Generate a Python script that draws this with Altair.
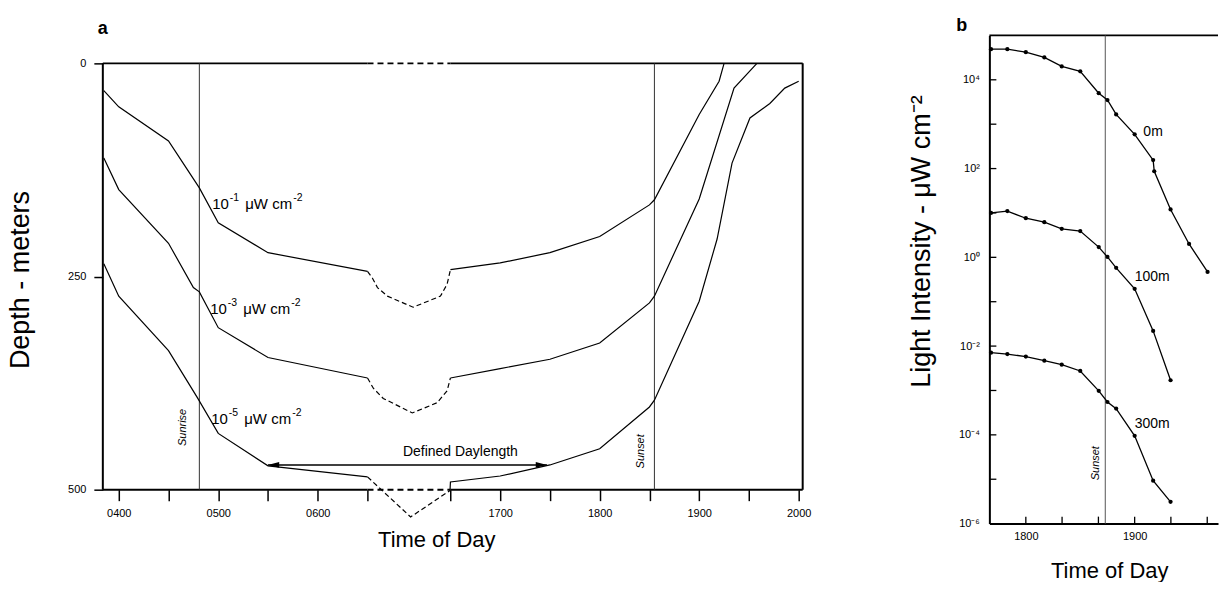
import altair as alt
import pandas as pd

FONT = "Liberation Sans"
NARROW = "Liberation Sans Narrow, Liberation Sans"

# ---------------- panel a : depth of three isolumes ----------------
# clock time in decimal hours, depth in metres; 0630-1630 is drawn as a compressed break
ISO1_AM_TIME = [3.85, 4.0, 4.5, 4.81, 5.0, 5.5, 6.5]
ISO1_AM_DEPTH = [32, 51, 91, 146, 187, 222, 244]
ISO1_MID_TIME = [6.5, 7.1, 7.7, 8.9, 12.0, 15.3, 16.1, 16.5]
ISO1_MID_DEPTH = [244, 252, 263, 273, 286, 273, 259, 242]
ISO1_PM_TIME = [16.5, 17.0, 17.5, 18.0, 18.5, 18.55, 19.0, 19.2, 19.25]
ISO1_PM_DEPTH = [242, 234, 222, 203, 166, 160, 60, 21, 0]

ISO2_AM_TIME = [3.85, 4.0, 4.5, 4.75, 4.81, 5.0, 5.5, 6.5]
ISO2_AM_DEPTH = [111, 148, 211, 263, 268, 310, 345, 369]
ISO2_MID_TIME = [6.5, 7.2, 8.4, 11.9, 14.9, 16.1, 16.5]
ISO2_MID_DEPTH = [369, 381, 393, 410, 398, 384, 369]
ISO2_PM_TIME = [16.5, 17.0, 17.5, 18.0, 18.5, 18.55, 19.0, 19.35, 19.58]
ISO2_PM_DEPTH = [369, 358, 347, 328, 281, 273, 159, 29, 0]

ISO3_AM_TIME = [3.85, 4.0, 4.5, 4.79, 5.0, 5.5, 6.5]
ISO3_AM_DEPTH = [235, 273, 337, 392, 434, 472, 485]
ISO3_MID_TIME = [6.5, 11.7, 16.45]
ISO3_MID_DEPTH = [485, 532, 501]
ISO3_PM_TIME = [16.45, 16.5, 17.0, 17.5, 18.0, 18.5, 18.55, 19.0, 19.18, 19.33, 19.51, 19.71, 19.86, 20.0]
ISO3_PM_DEPTH = [501, 491, 484, 471, 452, 403, 395, 279, 206, 117, 64, 47, 29, 21]

# isolume labels "10^x μW cm^-2": base, exponent, unit, unit exponent
ISO_BASE = ["10", "10", "10"]
ISO_EXP = ["-1", "-3", "-5"]
ISO_UNIT = ["μW cm", "μW cm", "μW cm"]
ISO_UNIT_EXP = ["-2", "-2", "-2"]
ISO_LABEL_TIME = [4.94, 4.92, 4.93]
ISO_LABEL_DEPTH = [171, 294, 423]

SUNRISE_A = 4.81
SUNSET_A = 18.55
DAYLENGTH_START, DAYLENGTH_END, DAYLENGTH_DEPTH = 5.5, 17.47, 471
DAYLENGTH_TEXT_TIME, DAYLENGTH_TEXT_DEPTH = 16.6, 461
SUNRISE_TEXT = (4.68, 427)
SUNSET_TEXT_A = (18.45, 455)
PANEL_A_TAG = (3.79, -34)
TICK_HOURS_A = [4.0, 4.5, 5.0, 5.5, 6.0, 6.5, 16.5, 17.0, 17.5, 18.0, 18.5, 19.0, 19.5, 20.0]
DEPTH_TICKS = [0, 250, 500]

# ---------------- panel b : light intensity at three depths ----------------
SURF_TIME = [17.68, 17.83, 18.0, 18.17, 18.33, 18.5, 18.67, 18.75, 18.83, 19.0, 19.17, 19.18, 19.33, 19.5, 19.67]
SURF_LIGHT = [4.9e4, 4.9e4, 4.2e4, 3.2e4, 2.0e4, 1.55e4, 5.0e3, 3.5e3, 1.66e3, 5.9e2, 1.55e2, 8.7e1, 1.2e1, 2.0, 0.47]
M100_TIME = [17.68, 17.83, 18.0, 18.17, 18.33, 18.5, 18.67, 18.75, 18.83, 19.0, 19.17, 19.33]
M100_LIGHT = [10, 11, 7.6, 6.2, 4.4, 3.9, 1.7, 1.02, 0.58, 0.195, 0.022, 0.0017]
M300_TIME = [17.68, 17.83, 18.0, 18.17, 18.33, 18.5, 18.67, 18.75, 18.83, 19.0, 19.17, 19.33]
M300_LIGHT = [7.1e-3, 6.6e-3, 5.8e-3, 4.7e-3, 3.8e-3, 2.75e-3, 9.8e-4, 5.5e-4, 3.9e-4, 9.5e-5, 9.3e-6, 3.1e-6]
SERIES_LABELS = ["0m", "100m", "300m"]
SERIES_LABEL_TIME = [19.08, 19.0, 19.0]
SERIES_LABEL_LIGHT = [5.4e2, 0.30, 1.45e-4]
SUNSET_B = 18.73
SUNSET_TEXT_B = (18.674, 2.3e-5)
PANEL_B_TAG = (17.36, 1.23e5)
TICK_HOURS_B = [18.0, 18.333, 18.667, 19.0, 19.333, 19.667]
DECADES_B = [1e-5, 1e-4, 1e-3, 1e-2, 1e-1, 1.0, 1e1, 1e2, 1e3, 1e4]
LABELED_DECADES_B = [1e4, 1e2, 1.0, 1e-2, 1e-4, 1e-6]

# ---------------- layout ----------------
# both panels share the same plot height; panel a's depth frame (0-500 m) sits inside it
WA, WB, H = 701, 229, 489
M_PER_PX = 500 / 427
DEPTH_TOP = -28 * M_PER_PX
DEPTH_BOTTOM = 500 + 34 * M_PER_PX

GAP_START, GAP_END, GAP_SPAN = 6.5, 16.5, 0.8333


def axis_pos(h):
    if h <= GAP_START:
        return h
    if h >= GAP_END:
        return h - (GAP_END - GAP_START) + GAP_SPAN
    return GAP_START + (h - GAP_START) * GAP_SPAN / (GAP_END - GAP_START)


A_LEFT, A_RIGHT = 3.84, axis_pos(20.04)

SCALE_XA = alt.Scale(domain=[A_LEFT, A_RIGHT], nice=False, zero=False)
SCALE_YA = alt.Scale(domain=[DEPTH_TOP, DEPTH_BOTTOM], reverse=True, nice=False, zero=False)

H_EXPR = "(datum.value < 7 ? datum.value : datum.value + 9.1667)"
LABEL_EXPR_A = f"abs({H_EXPR} - round({H_EXPR})) < 0.02 ? format(round({H_EXPR}), '02d') + '00' : ''"

AXIS_XA = alt.Axis(values=[axis_pos(h) for h in TICK_HOURS_A], labelExpr=LABEL_EXPR_A,
                   title="Time of Day", domain=False, grid=False, tickSize=11, tickWidth=1.5,
                   offset=-34, labelFontSize=11, labelFont=NARROW, labelPadding=7,
                   labelFlush=False, titleFontSize=22, titlePadding=11, titleX=334)
AXIS_YA = alt.Axis(values=DEPTH_TICKS, title="Depth - meters", domain=False, grid=False,
                   tickSize=9, tickWidth=1.5, labelFontSize=11, labelFont=NARROW, labelPadding=8,
                   titleFontSize=27, titlePadding=33)


def XA(field="pos"):
    return alt.X(f"{field}:Q", scale=SCALE_XA, axis=AXIS_XA)


def YA(field="depth"):
    return alt.Y(f"{field}:Q", scale=SCALE_YA, axis=AXIS_YA)


curves = [
    (ISO1_AM_TIME, ISO1_AM_DEPTH, ISO1_MID_TIME, ISO1_MID_DEPTH, ISO1_PM_TIME, ISO1_PM_DEPTH),
    (ISO2_AM_TIME, ISO2_AM_DEPTH, ISO2_MID_TIME, ISO2_MID_DEPTH, ISO2_PM_TIME, ISO2_PM_DEPTH),
    (ISO3_AM_TIME, ISO3_AM_DEPTH, ISO3_MID_TIME, ISO3_MID_DEPTH, ISO3_PM_TIME, ISO3_PM_DEPTH),
]
solid_rows, dash_rows = [], []
for k, (amt, amd, mdt, mdd, pmt, pmd) in enumerate(curves):
    for i, (h, d) in enumerate(zip(amt, amd)):
        solid_rows.append(dict(seg=f"{k}am", i=i, pos=axis_pos(h), depth=d))
    for i, (h, d) in enumerate(zip(pmt, pmd)):
        solid_rows.append(dict(seg=f"{k}pm", i=i, pos=axis_pos(h), depth=d))
    for i, (h, d) in enumerate(zip(mdt, mdd)):
        dash_rows.append(dict(seg=f"{k}md", i=i, pos=axis_pos(h), depth=d))
solid_df = pd.DataFrame(solid_rows)
dash_df = pd.DataFrame(dash_rows)

g0, g1 = axis_pos(GAP_START), axis_pos(GAP_END)
frame_solid = pd.DataFrame([
    dict(pos=A_LEFT, pos2=A_LEFT, depth=0, depth2=500),
    dict(pos=A_RIGHT, pos2=A_RIGHT, depth=0, depth2=500),
    dict(pos=A_LEFT, pos2=g0, depth=0, depth2=0),
    dict(pos=g1, pos2=A_RIGHT, depth=0, depth2=0),
    dict(pos=A_LEFT, pos2=g0, depth=500, depth2=500),
    dict(pos=g1, pos2=A_RIGHT, depth=500, depth2=500),
])
frame_dash = pd.DataFrame([
    dict(pos=g0, pos2=g1, depth=0, depth2=0),
    dict(pos=g0, pos2=g1, depth=500, depth2=500),
])
sun_df = pd.DataFrame([
    dict(pos=axis_pos(SUNRISE_A), depth=0, depth2=500),
    dict(pos=axis_pos(SUNSET_A), depth=0, depth2=500),
])
arrow_df = pd.DataFrame([dict(pos=axis_pos(DAYLENGTH_START), pos2=axis_pos(DAYLENGTH_END),
                              depth=DAYLENGTH_DEPTH)])
head_l = pd.DataFrame([dict(pos=axis_pos(DAYLENGTH_START), depth=DAYLENGTH_DEPTH)])
head_r = pd.DataFrame([dict(pos=axis_pos(DAYLENGTH_END), depth=DAYLENGTH_DEPTH)])
iso_lab = pd.DataFrame(dict(pos=[axis_pos(h) for h in ISO_LABEL_TIME], depth=ISO_LABEL_DEPTH,
                            base=ISO_BASE, exp=ISO_EXP, unit=ISO_UNIT, uexp=ISO_UNIT_EXP))
day_lab = pd.DataFrame([dict(pos=axis_pos(DAYLENGTH_TEXT_TIME), depth=DAYLENGTH_TEXT_DEPTH,
                             text="Defined Daylength")])
sun_lab = pd.DataFrame([
    dict(pos=axis_pos(SUNRISE_TEXT[0]), depth=SUNRISE_TEXT[1], text="Sunrise"),
    dict(pos=axis_pos(SUNSET_TEXT_A[0]), depth=SUNSET_TEXT_A[1], text="Sunset"),
])
tag_a = pd.DataFrame([dict(pos=PANEL_A_TAG[0], depth=PANEL_A_TAG[1], text="a")])


def iso_text(field, size, dx, dy=0):
    return alt.Chart(iso_lab).mark_text(
        align="left", baseline="alphabetic", font=FONT, fontSize=size, dx=dx, dy=dy,
        color="black").encode(x=XA(), y=YA(), text=f"{field}:N")


layers_a = [
    alt.Chart(frame_solid).mark_rule(color="black", strokeWidth=2).encode(
        x=XA(), x2="pos2:Q", y=YA(), y2="depth2:Q"),
    alt.Chart(frame_dash).mark_rule(color="black", strokeWidth=2, strokeDash=[6, 4]).encode(
        x=XA(), x2="pos2:Q", y=YA(), y2="depth2:Q"),
    alt.Chart(sun_df).mark_rule(color="#333333", strokeWidth=1).encode(
        x=XA(), y=YA(), y2="depth2:Q"),
    alt.Chart(solid_df).mark_line(color="black", strokeWidth=1.2).encode(
        x=XA(), y=YA(), detail="seg:N", order="i:Q"),
    alt.Chart(dash_df).mark_line(color="black", strokeWidth=1.2, strokeDash=[5, 3]).encode(
        x=XA(), y=YA(), detail="seg:N", order="i:Q"),
    alt.Chart(arrow_df).mark_rule(color="black", strokeWidth=1.6).encode(
        x=XA(), x2="pos2:Q", y=YA()),
    alt.Chart(head_l).mark_point(shape="M-1,0L1,-0.5L1,0.5Z", filled=True, size=130, opacity=1,
                                 color="black", xOffset=5.5).encode(x=XA(), y=YA()),
    alt.Chart(head_r).mark_point(shape="M1,0L-1,-0.5L-1,0.5Z", filled=True, size=130, opacity=1,
                                 color="black", xOffset=-5.5).encode(x=XA(), y=YA()),
    iso_text("base", 15, 0),
    iso_text("exp", 10.5, 17.5, -8),
    iso_text("unit", 15, 33),
    iso_text("uexp", 10.5, 81, -8),
    alt.Chart(day_lab).mark_text(align="center", baseline="alphabetic", font=FONT, fontSize=14,
                                 color="black").encode(x=XA(), y=YA(), text="text:N"),
    alt.Chart(sun_lab).mark_text(align="center", baseline="alphabetic", font=FONT, fontSize=11,
                                 fontStyle="italic", angle=270, color="black").encode(
        x=XA(), y=YA(), text="text:N"),
    alt.Chart(tag_a).mark_text(align="left", baseline="alphabetic", font=FONT, fontSize=18,
                               fontWeight="bold", color="black").encode(
        x=XA(), y=YA(), text="text:N"),
]

chart_a = alt.layer(*layers_a).properties(width=WA, height=H)

# ---------------- panel b ----------------
B_LEFT = 17.665
B_RIGHT = B_LEFT + WB / 109.0
SCALE_XB = alt.Scale(domain=[B_LEFT, B_RIGHT], nice=False, zero=False)
SCALE_YB = alt.Scale(type="log", domain=[1e-6, 1e5], nice=False)

SUP = {4: "⁴", 2: "²", 0: "⁰", -2: "⁻²", -4: "⁻⁴", -6: "⁻⁶"}
LABEL_EXPR_YB = "".join(
    f"round(log(datum.value)/LN10) == {e} ? '10{s}' : " for e, s in SUP.items()) + "''"

AXIS_XB = alt.Axis(values=[18.0, 19.0], labelExpr="format(round(datum.value), '02d') + '00'",
                   title="Time of Day", domain=True, domainWidth=2, domainColor="black",
                   ticks=False, tickSize=0, grid=False, labelFontSize=11, labelFont=NARROW,
                   labelPadding=7, titleFontSize=22, titlePadding=19, titleX=120)
AXIS_YB = alt.Axis(values=LABELED_DECADES_B, labelExpr=LABEL_EXPR_YB,
                   title="Light Intensity - μW cm⁻²", domain=True, domainWidth=2,
                   domainColor="black", ticks=False, tickSize=0, grid=False, labelFontSize=11,
                   labelFont=NARROW, labelPadding=10, labelFlush=False, titleFontSize=27,
                   titleX=-54, titleY=206)


def XB(field="time"):
    return alt.X(f"{field}:Q", scale=SCALE_XB, axis=AXIS_XB)


def YB(field="light"):
    return alt.Y(f"{field}:Q", scale=SCALE_YB, axis=AXIS_YB)


b_rows = []
for name, ts, ls in [("0m", SURF_TIME, SURF_LIGHT), ("100m", M100_TIME, M100_LIGHT),
                     ("300m", M300_TIME, M300_LIGHT)]:
    for i, (t, v) in enumerate(zip(ts, ls)):
        b_rows.append(dict(series=name, i=i, time=t, light=v))
b_df = pd.DataFrame(b_rows)

top_df = pd.DataFrame([dict(time=B_LEFT, time2=B_RIGHT, light=1e5)])
xt_df = pd.DataFrame(dict(time=TICK_HOURS_B))
yt_df = pd.DataFrame(dict(light=DECADES_B))
sunb_df = pd.DataFrame([dict(time=SUNSET_B, light=1e-6, light2=1e5)])
ser_lab = pd.DataFrame(dict(time=SERIES_LABEL_TIME, light=SERIES_LABEL_LIGHT, text=SERIES_LABELS))
sunb_lab = pd.DataFrame([dict(time=SUNSET_TEXT_B[0], light=SUNSET_TEXT_B[1], text="Sunset")])
tag_b = pd.DataFrame([dict(time=PANEL_B_TAG[0], light=PANEL_B_TAG[1], text="b")])

layers_b = [
    alt.Chart(top_df).mark_rule(color="black", strokeWidth=1.8).encode(
        x=XB(), x2="time2:Q", y=YB()),
    alt.Chart(xt_df).mark_rule(color="black", strokeWidth=1.3).encode(
        x=XB(), y=alt.value(H), y2=alt.value(H - 7)),
    alt.Chart(yt_df).mark_rule(color="black", strokeWidth=1.3).encode(
        y=YB(), x=alt.value(0), x2=alt.value(7)),
    alt.Chart(sunb_df).mark_rule(color="#555555", strokeWidth=1).encode(
        x=XB(), y=YB(), y2="light2:Q"),
    alt.Chart(b_df).mark_line(color="black", strokeWidth=1.3).encode(
        x=XB(), y=YB(), detail="series:N", order="i:Q"),
    alt.Chart(b_df).mark_point(filled=True, size=18, opacity=1, color="black").encode(
        x=XB(), y=YB(), detail="series:N"),
    alt.Chart(ser_lab).mark_text(align="left", baseline="alphabetic", font=FONT, fontSize=14,
                                 color="black").encode(x=XB(), y=YB(), text="text:N"),
    alt.Chart(sunb_lab).mark_text(align="center", baseline="alphabetic", font=FONT, fontSize=11,
                                  fontStyle="italic", angle=270, color="black").encode(
        x=XB(), y=YB(), text="text:N"),
    alt.Chart(tag_b).mark_text(align="left", baseline="alphabetic", font=FONT, fontSize=18,
                               fontWeight="bold", color="black").encode(
        x=XB(), y=YB(), text="text:N"),
]

chart_b = alt.layer(*layers_b).properties(width=WB, height=H)

chart = alt.hconcat(chart_a, chart_b, spacing=96).resolve_scale(
    x="independent", y="independent"
).properties(
    padding={"left": 6, "top": 17, "right": 0, "bottom": 0},
    background="white",
).configure_view(stroke=None).configure_axis(
    labelColor="black", titleColor="black", tickColor="black", titleFont=FONT,
    titleFontWeight="normal",
)

chart.save("out.html", embed_options={"renderer": "svg", "actions": False})
